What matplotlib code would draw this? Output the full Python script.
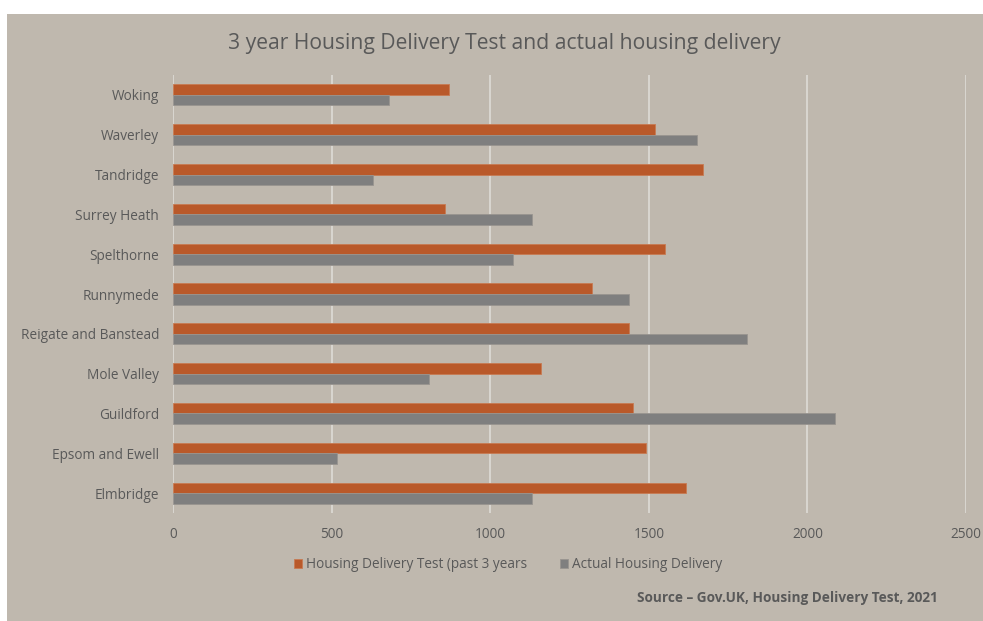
import matplotlib.pyplot as plt
import numpy as np
from matplotlib.patches import Rectangle

plt.rcParams['font.family'] = ['Open Sans', 'DejaVu Sans']

# Districts, top to bottom as shown
districts = ['Woking', 'Waverley', 'Tandridge', 'Surrey Heath', 'Spelthorne', 'Runnymede',
             'Reigate and Banstead', 'Mole Valley', 'Guildford', 'Epsom and Ewell', 'Elmbridge']
hdtValues = [871, 1521, 1671, 857, 1552, 1321, 1438, 1159, 1451, 1490, 1618]
actualValues = [681, 1652, 632, 1132, 1071, 1438, 1811, 808, 2087, 517, 1132]
xTicks = [0, 500, 1000, 1500, 2000, 2500]

bgColour = '#bfb8ae'
textColour = '#595959'
orange = '#b9592a'
grey = '#7f7f7f'

fig = plt.figure(figsize=(9.83, 6.21), dpi=100)
fig.patch.set_facecolor('white')
# the chart sits on a beige panel with a small white margin top/left
fig.patches.append(Rectangle((7 / 983, 0), 1 - 7 / 983, (621 - 14) / 621,
                             transform=fig.transFigure, facecolor=bgColour,
                             edgecolor='none', zorder=-5))

ax = fig.add_axes([173 / 983, 1 - 513 / 621, (966 - 173) / 983, (513 - 75) / 621])
ax.set_facecolor(bgColour)

y = np.arange(len(districts))
barH = 0.265
ax.barh(y - barH / 2, hdtValues, height=barH, color=orange, edgecolor='#c77a52',
        linewidth=0.6, label='Housing Delivery Test (past 3 years', zorder=3)
ax.barh(y + barH / 2, actualValues, height=barH, color=grey, edgecolor='#999490',
        linewidth=0.6, label='Actual Housing Delivery', zorder=3)

ax.set_ylim(len(districts) - 0.5, -0.5)
ax.set_xlim(0, 2500)
ax.set_xticks(xTicks)
ax.set_yticks(y)
ax.set_yticklabels(districts)
ax.tick_params(axis='both', length=0, colors=textColour, labelsize=9.8)
ax.tick_params(axis='y', pad=10)
ax.tick_params(axis='x', pad=10)
for s in ax.spines.values():
    s.set_visible(False)
ax.grid(axis='x', color='#dedbd6', linewidth=1.2, zorder=1)
ax.set_axisbelow(True)

fig.text(504 / 983, 1 - 43 / 621, '3 year Housing Delivery Test and actual housing delivery',
         ha='center', va='center', fontsize=15.2, color=textColour)

leg = fig.legend(loc='center', bbox_to_anchor=(508 / 983, 1 - 565 / 621), ncol=2,
                 frameon=False, fontsize=9.8, handlelength=0.6, handleheight=0.6,
                 handletextpad=0.3, columnspacing=2.4)
for t in leg.get_texts():
    t.set_color(textColour)

fig.text(938 / 983, 1 - 598 / 621, 'Source \u2013 Gov.UK, Housing Delivery Test, 2021',
         ha='right', va='center', fontsize=9.8, fontweight='bold', color=textColour)

fig.savefig('out.png', dpi=100, facecolor=fig.get_facecolor())
